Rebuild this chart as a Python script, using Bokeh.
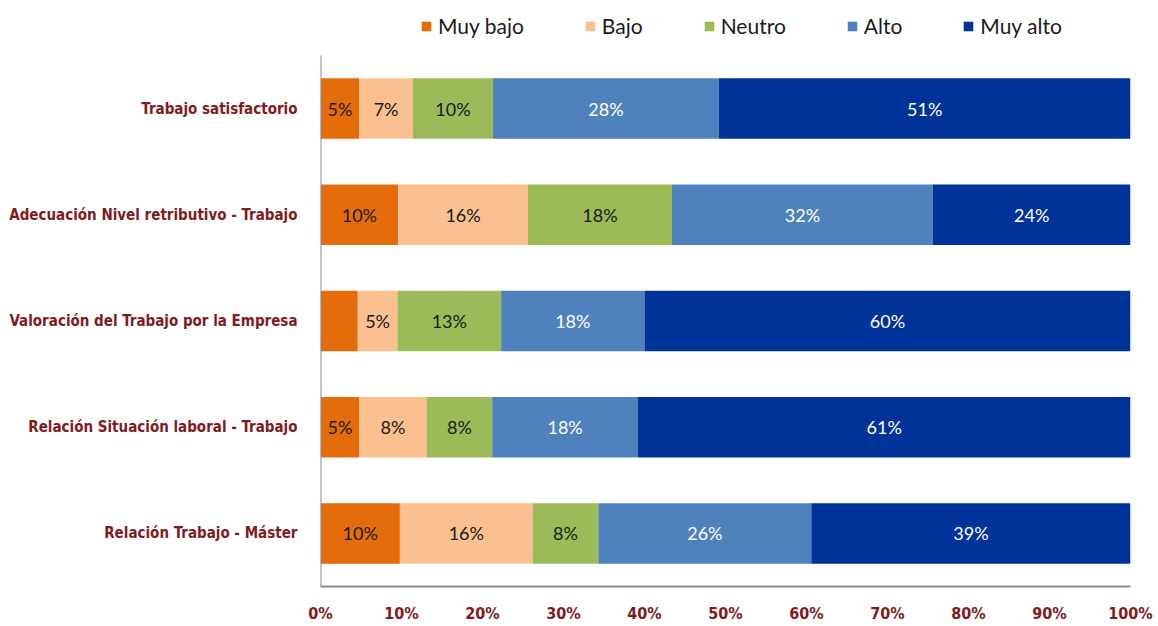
from bokeh.plotting import figure
from bokeh.models import Range1d, FixedTicker, Legend, LegendItem, ColumnDataSource
from bokeh.embed import file_html
from bokeh.resources import INLINE
from bokeh.core.properties import value

categories = [
    "Trabajo satisfactorio",
    "Adecuación Nivel retributivo - Trabajo",
    "Valoración del Trabajo por la Empresa",
    "Relación Situación laboral - Trabajo",
    "Relación Trabajo - Máster",
]
series = ["Muy bajo", "Bajo", "Neutro", "Alto", "Muy alto"]

muy_bajo = [4.8, 9.6, 4.6, 4.8, 9.8]
bajo = [6.6, 16.0, 4.9, 8.3, 16.4]
neutro = [9.9, 17.8, 12.8, 8.1, 8.1]
alto = [27.9, 32.2, 17.7, 18.0, 26.3]
muy_alto = [50.8, 24.4, 60.0, 60.8, 39.4]

colors = ["#E46C0A", "#FAC090", "#9BBB59", "#4F81BD", "#003399"]
label_colors = ["#1A1A1A", "#1A1A1A", "#1A1A1A", "#FFFFFF", "#FFFFFF"]
hidden_labels = [(2, 0)]  # (category index, series index) shown without a label

x_ticks = [0, 10, 20, 30, 40, 50, 60, 70, 80, 90, 100]
x_tick_labels = ["0%", "10%", "20%", "30%", "40%", "50%", "60%", "70%", "80%", "90%", "100%"]

values = [muy_bajo, bajo, neutro, alto, muy_alto]
dark_red = "#801A1C"
axis_gray = "#8C8C8C"
cond_font = "DejaVu Sans Condensed"

n = len(categories)
ypos = [n - 1 - i for i in range(n)]  # first category on top
legend_room = 0.4426  # extra space above the bars, in category bands, for the legend

p = figure(
    width=1158, height=626,
    x_range=Range1d(0, 100),
    y_range=Range1d(-0.5, n - 0.5 + legend_room),
    output_backend="svg", toolbar_location=None,
    min_border_left=320, min_border_right=28, min_border_top=8, min_border_bottom=40,
)

data = {"y": ypos}
for name, vals in zip(series, values):
    data[name] = vals
src = ColumnDataSource(data)
renderers = p.hbar_stack(series, y="y", height=0.57, color=colors, line_color=None, source=src)

# data labels
for si, (name, vals) in enumerate(zip(series, values)):
    xs, ys, ts = [], [], []
    for ci in range(n):
        left = sum(values[k][ci] for k in range(si))
        xs.append(left + vals[ci] / 2)
        ys.append(ypos[ci])
        ts.append("" if (ci, si) in hidden_labels else f"{round(vals[ci])}%")
    p.text(x=xs, y=ys, text=ts, text_align="center", text_baseline="middle",
           text_font=value("Lato"), text_font_size="18px", text_color=label_colors[si])

# left axis line, only over the category bands
p.segment(x0=[0], y0=[-0.5], x1=[0], y1=[n - 0.5], line_color=axis_gray, line_width=2)

legend = Legend(
    items=[LegendItem(label=nm, renderers=[r]) for nm, r in zip(series, renderers)],
    orientation="horizontal", location=(100, 548),
    border_line_color=None, background_fill_alpha=0,
    label_text_font="Lato", label_text_font_size="21px", label_text_color="#1A1A1A",
    glyph_width=12, glyph_height=12, label_standoff=6, spacing=60,
    padding=0, margin=0,
)
p.add_layout(legend, "center")

p.xgrid.visible = False
p.ygrid.visible = False
p.outline_line_color = None

xa = p.xaxis[0]
xa.ticker = FixedTicker(ticks=x_ticks)
xa.major_label_overrides = {t: l for t, l in zip(x_ticks, x_tick_labels)}
xa.major_tick_line_color = None
xa.minor_tick_line_color = None
xa.axis_line_color = axis_gray
xa.axis_line_width = 2
xa.major_label_standoff = 11
xa.major_label_text_font = cond_font
xa.major_label_text_font_style = "bold"
xa.major_label_text_font_size = "16px"
xa.major_label_text_color = dark_red

ya = p.yaxis[0]
ya.ticker = FixedTicker(ticks=ypos)
ya.major_label_overrides = {y: c for y, c in zip(ypos, categories)}
ya.major_tick_line_color = None
ya.minor_tick_line_color = None
ya.axis_line_color = None
ya.major_label_standoff = 17
ya.major_label_text_font = cond_font
ya.major_label_text_font_style = "bold"
ya.major_label_text_font_size = "15px"
ya.major_label_text_color = dark_red

open("out.html", "w").write(file_html(p, INLINE))
